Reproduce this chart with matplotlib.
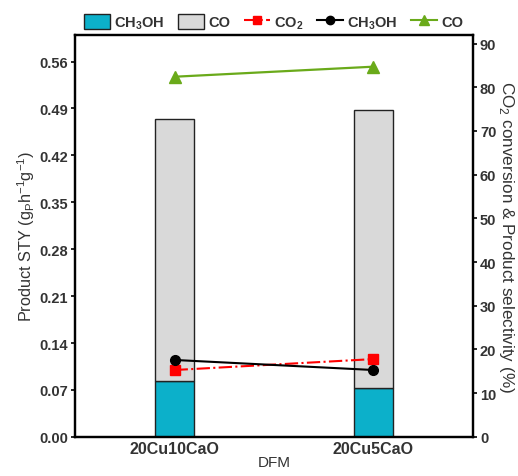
import matplotlib
matplotlib.use("Agg")
import matplotlib.pyplot as plt
from matplotlib.patches import Patch
from matplotlib.lines import Line2D
import numpy as np

plt.rcParams['font.family'] = ['Liberation Sans', 'DejaVu Sans']

# data
samples = ["20Cu10CaO", "20Cu5CaO"]
sty_ch3oh = [0.083, 0.073]
sty_co = [0.392, 0.415]          # stacked on top of CH3OH
conv_co2 = [15.3, 17.8]
sel_ch3oh = [17.6, 15.3]
sel_co = [82.4, 84.7]

x = np.arange(len(samples))

fig, ax = plt.subplots(figsize=(5.18, 4.77), dpi=100)
fig.subplots_adjust(left=0.145, right=0.913, top=0.925, bottom=0.082)

ax.bar(x, sty_ch3oh, width=0.2, color='#0CB0CA', edgecolor='#222222', linewidth=1)
ax.bar(x, sty_co, width=0.2, bottom=sty_ch3oh, color='#D9D9D9', edgecolor='#222222', linewidth=1)
ax.set_xlim(-0.5, 1.5)
ax.set_ylim(0, 0.6)
ax.set_yticks(np.arange(0, 0.57, 0.07))
ax.set_yticklabels([f"{v:.2f}" for v in np.arange(0, 0.57, 0.07)])
ax.set_xticks(x)
ax.set_xticklabels(samples)
ax.tick_params(axis='x', length=0, pad=3, labelsize=11.5)
ax.tick_params(axis='y', length=3, width=1.2, pad=2, labelsize=10.5)
for lab in ax.get_xticklabels() + ax.get_yticklabels():
    lab.set_fontweight('bold')
    lab.set_color('#333333')
ax.set_xlabel("DFM", fontsize=11, color='#333333', labelpad=-1)
ax.set_ylabel(r"Product STY (g$_\mathregular{P}$h$^\mathregular{-1}$g$^\mathregular{-1}$)",
              fontsize=11.7, color='#333333', labelpad=2)
for s in ax.spines.values():
    s.set_linewidth(1.6)

ax2 = ax.twinx()
ax2.plot(x, conv_co2, color='#FF0000', linestyle='-.', linewidth=1.5,
         marker='s', markersize=7)
ax2.plot(x, sel_ch3oh, color='black', linestyle='-', linewidth=1.5,
         marker='o', markersize=7)
ax2.plot(x, sel_co, color='#6AAA1A', linestyle='-', linewidth=1.6,
         marker='^', markersize=8)
ax2.set_ylim(0, 92)
ax2.set_yticks(np.arange(0, 91, 10))
ax2.tick_params(axis='y', length=3, width=1.2, pad=2, labelsize=10.5)
for lab in ax2.get_yticklabels():
    lab.set_fontweight('bold')
    lab.set_color('#333333')
ax2.set_ylabel(r"CO$_\mathregular{2}$ conversion & Product selectivity (%)",
               fontsize=12.3, color='#333333', rotation=270, labelpad=14)
for s in ax2.spines.values():
    s.set_linewidth(1.6)

handles = [
    Patch(facecolor='#0CB0CA', edgecolor='#222222', label=r"CH$_\mathregular{3}$OH"),
    Patch(facecolor='#D9D9D9', edgecolor='#222222', label="CO"),
    Line2D([], [], color='#FF0000', linestyle='-.', marker='s', markersize=6, label=r"CO$_\mathregular{2}$"),
    Line2D([], [], color='black', marker='o', markersize=6, label=r"CH$_\mathregular{3}$OH"),
    Line2D([], [], color='#6AAA1A', marker='^', markersize=7, label="CO"),
]
leg = fig.legend(handles=handles, loc='upper center', bbox_to_anchor=(0.528, 0.997), ncol=5,
                 frameon=False, handlelength=1.8, handleheight=1.3, handletextpad=0.3,
                 columnspacing=0.9, prop={'weight': 'bold', 'size': 10.5})
for t in leg.get_texts():
    t.set_color('#333333')

fig.savefig("out.png", dpi=100)
